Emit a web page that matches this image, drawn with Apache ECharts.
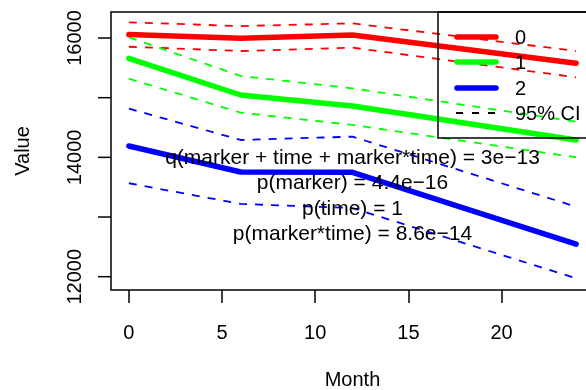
<!DOCTYPE html>
<html><head><meta charset="utf-8">
<script src="https://cdn.jsdelivr.net/npm/echarts@6/dist/echarts.min.js"></script>
<style>html,body{margin:0;padding:0;background:#fff}#c{width:586px;height:390px}</style>
</head><body><div id="c"></div>
<script>
const months = [0, 6, 12, 24];
const groups = ['0', '1', '2'];
const fit0 = [16058, 15995, 16052, 15576];
const upper0 = [16263, 16200, 16246, 15782];
const lower0 = [15854, 15782, 15838, 15342];
const fit1 = [15660, 15045, 14861, 14291];
const upper1 = [16011, 15364, 15157, 14598];
const lower1 = [15318, 14749, 14543, 14002];
const fit2 = [14191, 13755, 13750, 12544];
const upper2 = [14816, 14291, 14347, 13174];
const lower2 = [13566, 13220, 13150, 11973];
const xTicks = [0, 5, 10, 15, 20];
const yTicks = [12000, 13000, 14000, 15000, 16000];
const yLabels = [12000, 14000, 16000];
const annoTexts = ['q(marker + time + marker*time) = 3e\u221213', 'p(marker) = 4.4e\u221216', 'p(time) = 1', 'p(marker*time) = 8.6e\u221214'];
const annoX = 12;
const annoY = [13990, 13571, 13136, 12717];
const ciLabel = '95% CI';
const xName = 'Month';
const yName = 'Value';

const colors = ['#FF0000', '#00FF00', '#0000FF'];
const fits = [fit0, fit1, fit2];
const ups = [upper0, upper1, upper2];
const lows = [lower0, lower1, lower2];
const pair = arr => months.map((m, i) => [m, arr[i]]);
const FONT = 'Liberation Sans, Arial, sans-serif';

const series = [];
for (let g = 0; g < 3; g++) {
  [ups[g], lows[g]].forEach(a => series.push({
    type: 'line', data: pair(a), symbol: 'none', silent: true, z: 2,
    lineStyle: { color: colors[g], width: 1.8, type: [8, 8] }
  }));
}
for (let g = 0; g < 3; g++) {
  series.push({
    type: 'line', name: groups[g], data: pair(fits[g]), symbol: 'none', silent: true, z: 3,
    lineStyle: { color: colors[g], width: 5.5, cap: 'round' }
  });
}

// legend (drawn as graphics)
const LX = 438, LY = 12;
const legendRows = [37, 62, 88, 113];
const graphic = [{
  type: 'rect', shape: { x: LX, y: LY, width: 200, height: 126 },
  style: { fill: 'none', stroke: '#000', lineWidth: 1.5 }, z: 10
}];
groups.forEach((g, i) => {
  graphic.push({ type: 'line', shape: { x1: 457, y1: legendRows[i], x2: 496, y2: legendRows[i] },
    style: { stroke: colors[i], lineWidth: 5.5, lineCap: 'round' }, z: 10 });
  graphic.push({ type: 'text', x: 515, y: legendRows[i] + 1,
    style: { text: g, fill: '#000', font: '20px ' + FONT, textVerticalAlign: 'middle' }, z: 10 });
});
graphic.push({ type: 'line', shape: { x1: 456, y1: legendRows[3], x2: 500, y2: legendRows[3] },
  style: { stroke: '#000', lineWidth: 1.8, lineDash: [7, 9] }, z: 10 });
graphic.push({ type: 'text', x: 515, y: legendRows[3] + 1,
  style: { text: ciLabel, fill: '#000', font: '20px ' + FONT, textVerticalAlign: 'middle' }, z: 10 });

const chart = echarts.init(document.getElementById('c'), null, { renderer: 'canvas' });
chart.setOption({
  animation: false,
  backgroundColor: '#fff',
  grid: { left: 111, top: 12, width: 483, height: 278, show: true, borderColor: '#000', borderWidth: 1.5, backgroundColor: 'transparent', containLabel: false, outerBoundsMode: 'none' },
  xAxis: {
    type: 'value', min: -0.96, max: 24.96, splitLine: { show: false },
    axisLine: { show: false },
    axisTick: { show: true, inside: false, length: 13, lineStyle: { color: '#000', width: 1.5 }, customValues: xTicks },
    axisLabel: { color: '#000', fontSize: 20, fontFamily: FONT, margin: 33, customValues: xTicks },
    name: xName, nameLocation: 'middle', nameGap: 80,
    nameTextStyle: { color: '#000', fontSize: 20, fontFamily: FONT }
  },
  yAxis: {
    type: 'value', min: 11777, max: 16436, splitLine: { show: false },
    axisLine: { show: false },
    axisTick: { show: false },
    axisLabel: { color: '#000', fontSize: 20, fontFamily: FONT, margin: 26, rotate: 90, customValues: yLabels, formatter: v => String(v) },
    name: yName, nameLocation: 'middle', nameGap: 78,
    nameTextStyle: { color: '#000', fontSize: 20, fontFamily: FONT }
  },
  series: series
});

// y ticks and annotations placed through the chart's own scales
const axisX = chart.convertToPixel({ gridIndex: 0 }, [-0.96, 0])[0];
yTicks.forEach(v => {
  const py = chart.convertToPixel({ gridIndex: 0 }, [0, v])[1];
  graphic.push({ type: 'line', shape: { x1: axisX - 13, y1: py, x2: axisX, y2: py },
    style: { stroke: '#000', lineWidth: 1.5 }, z: 10 });
});
annoY.forEach((v, i) => {
  const p = chart.convertToPixel({ gridIndex: 0 }, [annoX, v]);
  graphic.push({ type: 'text', x: p[0], y: p[1],
    style: { text: annoTexts[i], fill: '#000', font: '21px ' + FONT, textAlign: 'center', textVerticalAlign: 'middle' }, z: 10 });
});
chart.setOption({ graphic: graphic });
</script>
</body></html>
